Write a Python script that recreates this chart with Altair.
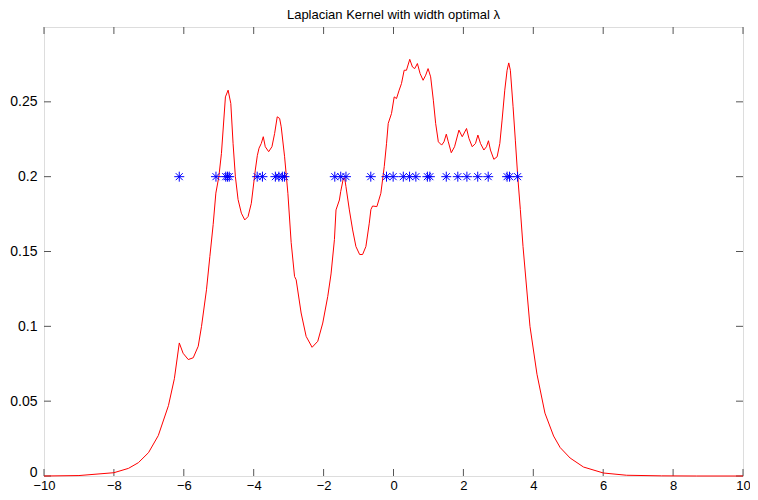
import altair as alt
import pandas as pd

# kernel density curve (x, density)
curve_x = [-10.0, -9.0, -8.0, -7.583, -7.30, -7.01, -6.73, -6.44, -6.27, -6.129, -6.02, -5.872,
           -5.73, -5.587, -5.493, -5.351, -5.254, -5.160, -5.083, -4.997, -4.923, -4.809, -4.732,
           -4.655, -4.590, -4.524, -4.447, -4.353, -4.256, -4.162, -4.068, -3.954, -3.897, -3.848,
           -3.783, -3.726, -3.669, -3.572, -3.478, -3.401, -3.327, -3.258, -3.213, -3.116, -3.022,
           -2.928, -2.831, -2.785, -2.643, -2.500, -2.329, -2.167, -2.024, -1.881, -1.787, -1.690,
           -1.645, -1.548, -1.511, -1.434, -1.397, -1.360, -1.263, -1.169, -1.075, -0.969, -0.884,
           -0.790, -0.693, -0.647, -0.599, -0.476, -0.362, -0.265, -0.200, -0.151, -0.057, 0.020,
           0.086, 0.162, 0.228, 0.305, 0.371, 0.465, 0.542, 0.607, 0.684, 0.761, 0.847, 0.921,
           0.989, 1.063, 1.140, 1.206, 1.283, 1.377, 1.445, 1.511, 1.568, 1.653, 1.747, 1.873,
           1.967, 2.090, 2.158, 2.252, 2.346, 2.415, 2.489, 2.586, 2.660, 2.717, 2.774, 2.871,
           2.965, 3.042, 3.107, 3.184, 3.250, 3.298, 3.344, 3.421, 3.486, 3.555, 3.629, 3.706,
           3.905, 4.105, 4.333, 4.581, 4.769, 5.054, 5.436, 6.006, 6.670, 7.670, 8.670, 10.0]
curve_y = [0.0000, 0.0003, 0.0022, 0.0051, 0.0089, 0.0156, 0.0270, 0.0470, 0.0650, 0.0889, 0.0820, 0.0778,
           0.0790, 0.0867, 0.1000, 0.1244, 0.1467, 0.1680, 0.1890, 0.2000, 0.2156, 0.2533, 0.2578,
           0.2489, 0.2220, 0.2000, 0.1847, 0.1756, 0.1711, 0.1733, 0.1822, 0.2044, 0.2140, 0.2190,
           0.2222, 0.2267, 0.2200, 0.2167, 0.2200, 0.2289, 0.2400, 0.2389, 0.2333, 0.2133, 0.1889,
           0.1560, 0.1333, 0.1311, 0.1089, 0.0933, 0.0860, 0.0900, 0.1022, 0.1200, 0.1350, 0.1580,
           0.1778, 0.1844, 0.1900, 0.1990, 0.1990, 0.1933, 0.1778, 0.1644, 0.1533, 0.1480, 0.1480,
           0.1533, 0.1689, 0.1780, 0.1804, 0.1800, 0.1889, 0.2067, 0.2220, 0.2356, 0.2422, 0.2533,
           0.2522, 0.2578, 0.2622, 0.2711, 0.2711, 0.2784, 0.2733, 0.2722, 0.2756, 0.2689, 0.2644, 0.2678,
           0.2722, 0.2667, 0.2511, 0.2356, 0.2233, 0.2211, 0.2233, 0.2284, 0.2233, 0.2160, 0.2200, 0.2311,
           0.2267, 0.2322, 0.2256, 0.2200, 0.2222, 0.2278, 0.2222, 0.2178, 0.2200, 0.2240, 0.2178, 0.2116,
           0.2133, 0.2222, 0.2378, 0.2578, 0.2711, 0.2760, 0.2711, 0.2467, 0.2244, 0.2000, 0.1780, 0.1533,
           0.1000, 0.0680, 0.0420, 0.0267, 0.0190, 0.0120, 0.0060, 0.0020, 0.0005, 0.0001, 0.0000, 0.0000]

# sample points (drawn at height 0.2)
sample_x = [-6.13, -5.08, -4.80, -4.75, -4.70, -3.90, -3.75, -3.38, -3.28, -3.18, -3.12,
            -1.68, -1.51, -1.36, -0.65, -0.20, -0.01, 0.28, 0.46, 0.64, 0.97, 1.04,
            1.51, 1.84, 2.10, 2.41, 2.71, 3.25, 3.32, 3.55]
sample_level = 0.2

x_ticks = [-10, -8, -6, -4, -2, 0, 2, 4, 6, 8, 10]
y_ticks = [0, 0.05, 0.1, 0.15, 0.2, 0.25]

W, H = 699, 449
FONT = "Liberation Sans"

curve_df = pd.DataFrame({"x": curve_x, "y": curve_y})
samples_df = pd.DataFrame({"x": sample_x, "y": [sample_level] * len(sample_x)})
xt_df = pd.DataFrame({"v": x_ticks})
yt_df = pd.DataFrame({"v": y_ticks})

xscale = alt.Scale(domain=[-10, 10], nice=False, zero=False)
yscale = alt.Scale(domain=[0, 0.3], nice=False, zero=False)

xaxis = alt.Axis(values=x_ticks, title=None, grid=False, domain=False, ticks=False,
                 labelFont=FONT, labelFontSize=13, labelColor="black", labelPadding=3,
                 labelFlush=False)
yaxis = alt.Axis(values=y_ticks, title=None, grid=False, domain=False, ticks=False,
                 labelFont=FONT, labelFontSize=14, labelColor="black", labelPadding=7,
                 labelOffset={"condition": {"test": "datum.value == 0", "value": -4}, "value": 0},
                 labelExpr="datum.value == 0 ? '0' : format(datum.value, '.2~f')")

line = alt.Chart(curve_df).mark_line(color="#ff0000", strokeWidth=1, interpolate="linear").encode(
    x=alt.X("x:Q", scale=xscale, axis=xaxis),
    y=alt.Y("y:Q", scale=yscale, axis=yaxis),
)

star_path = "M-1,0L1,0M0,-1L0,1M-0.7,-0.7L0.7,0.7M-0.7,0.7L0.7,-0.7"
stars = alt.Chart(samples_df).mark_point(shape=star_path, size=100, filled=False,
                                         color="#0000ff", strokeWidth=1, opacity=1).encode(
    x=alt.X("x:Q", scale=xscale),
    y=alt.Y("y:Q", scale=yscale),
)

tick_color = "#555555"
tx_bottom = alt.Chart(xt_df).mark_rule(color=tick_color, strokeWidth=1).encode(
    x=alt.X("v:Q", scale=xscale), y=alt.value(H), y2=alt.value(H - 7))
tx_top = alt.Chart(xt_df).mark_rule(color=tick_color, strokeWidth=1).encode(
    x=alt.X("v:Q", scale=xscale), y=alt.value(0), y2=alt.value(7))
ty_left = alt.Chart(yt_df).mark_rule(color=tick_color, strokeWidth=1).encode(
    y=alt.Y("v:Q", scale=yscale), x=alt.value(0), x2=alt.value(7))
ty_right = alt.Chart(yt_df).mark_rule(color=tick_color, strokeWidth=1).encode(
    y=alt.Y("v:Q", scale=yscale), x=alt.value(W), x2=alt.value(W - 7))

chart = alt.layer(tx_bottom, tx_top, ty_left, ty_right, line, stars).properties(
    width=W, height=H,
    title=alt.Title("Laplacian Kernel with width optimal \u03bb", font=FONT, fontSize=13,
                    fontWeight="normal", color="black", anchor="middle", offset=5),
    autosize=alt.AutoSizeParams(type="none"),
    padding={"left": 36, "top": 19, "right": 7, "bottom": 16},
).configure_view(stroke="#444444", strokeWidth=1).configure(background="white")

chart.save("out.html", embed_options={"renderer": "svg", "actions": False})
